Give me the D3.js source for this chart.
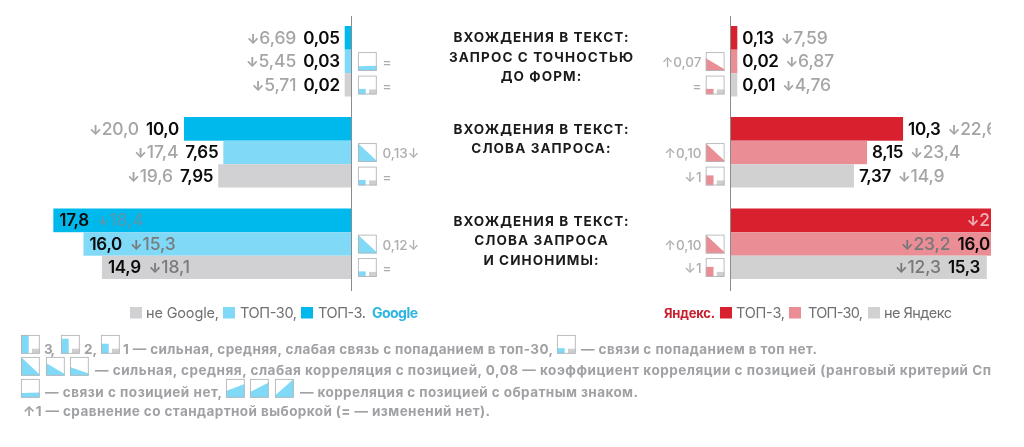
<!DOCTYPE html>
<html lang="ru"><head><meta charset="utf-8">
<script src="https://cdn.jsdelivr.net/npm/d3@7"></script>
<style>
html,body{margin:0;padding:0;background:#fff}
svg{display:block;font-family:Inter,"Noto Sans",sans-serif;filter:blur(.3px)}
</style></head><body><svg id="c" width="1024" height="447"></svg>
<script>
// ---------- data ----------
const googleValues = [["0,05","0,03","0,02"],["10,0","7,65","7,95"],["17,8","16,0","14,9"]];
const googleDrops  = [["6,69","5,45","5,71"],["20,0","17,4","19,6"],["18,4","15,3","18,1"]];
const yandexValues = [["0,13","0,02","0,01"],["10,3","8,15","7,37"],["18,0","16,0","15,3"]];
const yandexDrops  = [["7,59","6,87","4,76"],["22,6","23,4","14,9"],["2","23,2","12,3"]];
const googleLinks = [[null,"corr0","link0"],[null,"corr3","link0"],[null,"corr3","link0"]];
const yandexLinks = [[null,"corrm","link0"],[null,"corr3","link1"],[null,"corr3","link1"]];
const googleNotes = [[null,"=","="],[null,"0,13↓","="],[null,"0,12↓","="]];
const yandexNotes = [[null,"↑0,07","="],[null,"↑0,10","↓1"],[null,"↑0,10","↓1"]];
const headings = [["ВХОЖДЕНИЯ В ТЕКСТ:","ЗАПРОС С ТОЧНОСТЬЮ","ДО ФОРМ:"],["ВХОЖДЕНИЯ В ТЕКСТ:","СЛОВА ЗАПРОСА:"],["ВХОЖДЕНИЯ В ТЕКСТ:","СЛОВА ЗАПРОСА","И СИНОНИМЫ:"]];
const groups = [0,1,2];
const rows = [0,1,2];
const blues = ["#00b9ec","#80d9f6","#d1d0d2"];
const reds  = ["#d8202f","#ea8d95","#d1d1d2"];
const TXT="#0a0a0a", GREY="#a4a5a7", NOTE="#a0a1a4";

// ---------- helpers ----------
const svg=d3.select("#c");
const num=s=>+s.replace(",",".");
svg.append("defs").append("clipPath").attr("id","page").append("rect").attr("width",991).attr("height",447);
const root=svg.append("g").attr("clip-path","url(#page)");

// bars: very small values keep a minimum visible stub, as in the original
const len=d3.scaleLinear().domain([0,0.01,0.4,20]).range([0,6.8,6.8,335]);
const groupTop=[26,117,208.5], rowH=[23.7,23.5,23.3];
const rowY=(g,r)=>groupTop[g]+d3.sum(rowH.slice(0,r));
const VS=17;

function drop(sel,txt,fill,anchor,x,y){
  const t=sel.append("text").attr("x",x).attr("y",y).attr("text-anchor",anchor).attr("fill",fill).attr("font-size",VS+.5).attr("letter-spacing",-.1);
  t.append("tspan").attr("font-size",13.5).attr("font-weight",800).text("↓");
  t.append("tspan").attr("font-weight",500).text(txt);
  return t;
}
function value(sel,txt,anchor,x,y){
  const t=sel.append("text").attr("x",x).attr("y",y).attr("text-anchor",anchor).attr("font-size",VS).attr("font-weight",600).attr("letter-spacing",-.3).attr("fill",TXT).text(txt);
  return t.node().getComputedTextLength();
}
function icon(sel,x,y,kind,cols){
  const g=sel.append("g").attr("transform",`translate(${x},${y})`);
  const S=18.7;
  const area=d3.area().x(d=>d[0]).y0(S).y1(d=>d[1]);
  if(kind.startsWith("corr")||kind.startsWith("inv")){
    const p={corr0:[14,13.5],corrw:[10,16.5],corrm:[6,17],corr3:[0,17.5],inv1:[12,5],inv2:[13,3.5],inv3:[16.5,0]}[kind];
    g.append("path").attr("d",area([[0,p[0]],[S,p[1]]])).attr("fill",cols[1]);
  } else {
    const hh={0:5.5,1:10,2:15,3:S}[+kind.slice(-1)];
    g.append("rect").attr("x",0).attr("y",S-hh).attr("width",7.7).attr("height",hh).attr("fill",cols[1]);
    g.append("rect").attr("x",11).attr("y",S-5).attr("width",7.7).attr("height",5).attr("fill","#cfcfd0");
  }
  g.append("rect").attr("x",.4).attr("y",.4).attr("width",S-.8).attr("height",S-.8).attr("fill","none").attr("stroke","#b4b6b9").attr("stroke-width",.9);
}

// ---------- both sides ----------
function side(axisX,dir,values,drops,cols,links,notes){
  const g=root.append("g");
  groups.forEach(gi=>rows.forEach(r=>{
    const v=values[gi][r], w=len(num(v)), y=rowY(gi,r), h=rowH[r];
    g.append("rect").attr("x",dir<0?axisX-w:axisX).attr("y",y).attr("width",w).attr("height",h).attr("fill",cols[r]);
    const base=y+h/2+6;
    const inside=gi===2;
    const edge=axisX+dir*w;
    if(dir<0){
      if(inside){
        const tw=value(g,v,"start",edge+6,base);
        drop(g,drops[gi][r],r===0?"#4f9bb5":"#7a7b7d","start",edge+6+tw+8,base);
      } else {
        const tw=value(g,v,"end",edge-5,base);
        drop(g,drops[gi][r],GREY,"end",edge-5-tw-7,base);
      }
    } else {
      if(inside){
        if(r===0){
          drop(g,drops[gi][r],"#eeb2b6","end",990,base);
        } else {
          const endX=r===1?990:980;
          const tw=value(g,v,"end",endX,base);
          drop(g,drops[gi][r],"#77787a","end",endX-tw-7,base);
        }
      } else {
        const tw=value(g,v,"start",edge+5,base);
        drop(g,drops[gi][r],GREY,"start",edge+5+tw+7,base);
      }
    }
    if(links[gi][r]){
      const ix=dir<0?axisX+6.5:axisX-24.7;
      icon(g,ix,y+2.5,links[gi][r],cols);
      const nx=dir<0?axisX+31:axisX-29;
      g.append("text").attr("x",nx).attr("y",y+h/2+6).attr("text-anchor",dir<0?"start":"end").attr("font-size",13.5).attr("font-weight",500).attr("fill","#adaeb0").text(notes[gi][r]);
    }
  }));
  g.append("line").attr("x1",axisX).attr("x2",axisX).attr("y1",16).attr("y2",291).attr("stroke","#8b8c8e").attr("stroke-width",1);
}
side(351.5,-1,googleValues,googleDrops,blues,googleLinks,googleNotes);
side(730.5, 1,yandexValues,yandexDrops,reds,yandexLinks,yandexNotes);

// ---------- headings ----------
const headY=[[42,61.5,80.5],[134,153],[225.5,245,264.5]];
headings.forEach((ls,g)=>ls.forEach((l,i)=>{
  root.append("text").attr("x",541.5).attr("y",headY[g][i]).attr("text-anchor","middle")
    .attr("font-size",13.5).attr("font-weight",700).attr("letter-spacing",1.1).attr("fill","#1a1a1a").text(l);
}));

// ---------- legends ----------
function fitted(x0,x1,y,txt,fill,size,weight){
  return root.append("text").attr("x",x0).attr("y",y).attr("textLength",x1-x0).attr("lengthAdjust","spacing")
    .attr("font-size",size).attr("font-weight",weight).attr("fill",fill).text(txt);
}
function sw(x,c){root.append("rect").attr("x",x).attr("y",307).attr("width",12).attr("height",11.5).attr("fill",c);}
const LG="#6f7072";
sw(130,blues[2]);fitted(146,219,318,"не Google,",LG,14.5,400);
sw(223,blues[1]);fitted(240,297,318,"ТОП-30,",LG,14.5,400);
sw(301,blues[0]);fitted(318,366,318,"ТОП-3.",LG,14.5,400);
fitted(372,418,318,"Google","#2eb5e0",14,700);
fitted(664,715,318,"Яндекс.","#c9202e",13,700);
sw(720,reds[0]);fitted(736,785,318,"ТОП-3,",LG,14.5,400);
sw(789,reds[1]);fitted(808,863,318,"ТОП-30,",LG,14.5,400);
sw(868,reds[2]);fitted(884,952,318,"не Яндекс",LG,14.5,400);

// ---------- footnotes ----------
const bl=[null,blues[1]];
[["link3",21,335],["link2",61,335],["link1",101,335],["link0",557,335],
 ["corr3",21,357],["corrm",46,357],["corrw",70,357],["corr0",21,379],
 ["inv1",226,379],["inv2",250,379],["inv3",275,379]].forEach(d=>icon(root,d[1],d[2],d[0],bl));
const NS=13.5,NB=700;
fitted(44,55,354,"3,",NOTE,NS,NB);
fitted(84,97,354,"2,",NOTE,NS,NB);
fitted(123,553,354,"1 — сильная, средняя, слабая связь с попаданием в топ-30,",NOTE,NS,NB);
fitted(581,817,354,"— связи с попаданием в топ нет.",NOTE,NS,NB);
fitted(95,991,375,"— сильная, средняя, слабая корреляция с позицией, 0,08 — коэффициент корреляции с позицией (ранговый критерий Сп",NOTE,NS,NB);
fitted(45,222,397,"— связи с позицией нет,",NOTE,NS,NB);
fitted(300,638,397,"— корреляция с позицией с обратным знаком.",NOTE,NS,NB);
fitted(23,490,416,"↑1 — сравнение со стандартной выборкой (= — изменений нет).",NOTE,NS,NB);
</script></body></html>
